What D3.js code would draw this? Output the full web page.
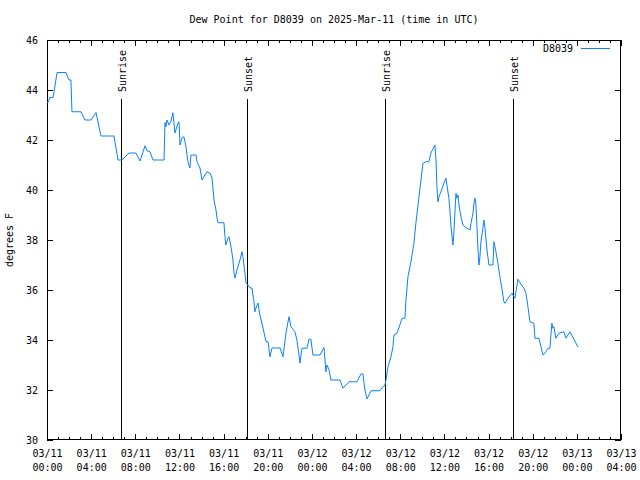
<!DOCTYPE html>
<html>
<head>
<meta charset="utf-8">
<script src="https://cdn.jsdelivr.net/npm/d3@7"></script>
<style>
  html, body { margin: 0; padding: 0; background: #fff; }
  svg { display: block; }
  text { font-family: "DejaVu Sans Mono", "Liberation Mono", monospace; font-size: 10px; fill: #000; }
</style>
</head>
<body>
<svg id="chart" width="640" height="480"></svg>
<script>
// ---- data ----
const title = "Dew Point for D8039 on 2025-Mar-11 (time in UTC)";
const yLabel = "degrees F";
const seriesName = "D8039";
// hours after 2025-03-11 00:00 UTC
const hours = [0,0.09,0.27,0.54,0.63,0.91,1.72,1.99,2.17,2.26,3.08,3.44,3.99,4.44,4.89,6.07,6.43,6.79,7.43,8.06,8.42,8.88,9.06,9.33,9.60,10.60,10.69,10.78,10.87,11.05,11.23,11.41,11.59,11.87,11.96,12.05,12.23,12.41,12.59,12.77,12.95,13.04,13.50,13.59,13.86,14.04,14.31,14.49,14.76,14.95,15.13,15.31,15.40,15.49,16.03,16.12,16.21,16.39,16.49,16.67,16.85,16.94,17.03,17.21,17.48,17.66,17.75,17.93,18.03,18.21,18.39,18.57,18.75,18.84,18.93,19.11,19.29,19.57,19.84,20.02,20.20,20.38,21.11,21.38,21.65,21.92,22.10,22.46,22.64,22.83,22.92,23.10,23.55,23.73,23.91,24.09,24.73,25.09,25.27,25.36,25.54,25.72,26.54,26.81,27.36,28.08,28.44,28.62,28.80,28.99,29.17,29.35,30.16,30.43,30.62,30.71,30.89,31.16,31.34,31.43,31.70,31.97,32.16,32.43,32.52,32.70,32.97,33.24,33.42,33.70,33.88,34.06,34.33,34.60,34.78,35.14,35.24,35.33,35.42,35.51,35.69,35.96,36.14,36.23,36.41,36.50,36.59,36.68,36.78,36.87,36.96,37.05,37.14,37.23,37.32,37.50,37.68,38.04,38.32,38.41,38.59,38.68,38.77,38.86,38.95,39.04,39.13,39.22,39.31,39.49,39.58,39.67,39.76,39.86,40.04,40.40,40.49,40.58,40.67,40.85,41.03,41.21,41.39,41.49,41.76,42.12,42.21,42.39,42.66,42.93,43.21,43.39,43.57,43.75,44.11,44.20,44.57,44.75,44.93,45.20,45.38,45.56,45.74,45.83,45.92,46.10,46.38,46.83,47.01,47.37,48.10];
const dewPoint = [43.5,43.5,43.7,43.7,43.9,44.7,44.7,44.4,44.4,43.13,43.13,42.8,42.8,43.1,42.16,42.16,41.2,41.2,41.48,41.48,41.16,41.77,41.57,41.53,41.2,41.2,42.7,42.53,42.8,42.6,42.75,43.09,42.28,42.68,42.73,41.8,42.08,42.13,41.73,41.13,40.88,41.4,41.4,41.13,40.88,40.4,40.6,40.73,40.68,40.48,39.6,39.2,38.88,38.69,38.69,38.13,37.8,38.08,38.13,37.73,37.2,36.68,36.48,36.8,37.2,37.53,37.33,36.68,36.28,36.2,36.08,36.08,35.53,35.13,35.28,35.48,35.0,34.48,33.93,33.93,33.33,33.68,33.68,33.33,34.28,34.93,34.53,34.33,34.0,33.4,33.08,33.67,33.67,34.03,34.03,33.4,33.4,33.7,32.73,33.0,32.83,32.4,32.4,32.07,32.33,32.33,32.64,32.64,32.0,31.64,31.8,31.97,31.97,32.13,32.2,32.4,32.93,33.33,33.73,34.2,34.27,34.6,34.87,34.87,35.6,36.53,37.13,37.87,38.68,39.73,40.4,41.07,41.13,41.13,41.48,41.8,41.2,40.07,39.53,39.73,39.93,40.27,40.47,40.2,39.67,39.2,38.6,38.2,37.8,38.4,39.13,39.87,39.67,39.8,39.4,38.93,38.6,38.47,38.4,38.67,39.07,39.47,39.67,39.4,38.53,37.67,37.0,37.33,37.93,38.47,38.8,38.53,38.07,37.6,37.0,37.0,37.93,37.73,37.53,37.07,36.53,36.07,35.53,35.47,35.67,35.87,35.8,35.67,36.43,36.24,36.07,35.87,35.33,34.73,34.67,34.07,34.07,33.73,33.4,33.53,33.67,33.67,34.67,34.47,34.53,34.07,34.27,34.33,34.07,34.33,33.72];
const sunEventLabels = ["Sunrise", "Sunset", "Sunrise", "Sunset"];
const sunEventHours = [6.68, 18.15, 30.64, 42.18];
const yTicks = [30, 32, 34, 36, 38, 40, 42, 44, 46];
const xTickHours = [0, 4, 8, 12, 16, 20, 24, 28, 32, 36, 40, 44, 48, 52];
const xTickDates = ["03/11","03/11","03/11","03/11","03/11","03/11","03/12","03/12","03/12","03/12","03/12","03/12","03/13","03/13"];
const xTickTimes = ["00:00","04:00","08:00","12:00","16:00","20:00","00:00","04:00","08:00","12:00","16:00","20:00","00:00","04:00"];
const xMinorHours = d3.range(0, 53, 1);

// ---- layout ----
const L = 47, R = 621, T = 40, B = 440;
const lineColor = "#0a80ff";
const svg = d3.select("#chart");

const x = d3.scaleLinear().domain([0, 52]).range([L, R]);
const y = d3.scaleLinear().domain([30, 46]).range([B, T]);

// minor ticks (bottom & top)
svg.append("g").attr("transform", `translate(0,${B})`)
  .call(d3.axisBottom(x).tickValues(xMinorHours).tickSize(-3).tickFormat(""))
  .call(g => g.select(".domain").remove());
svg.append("g").attr("transform", `translate(0,${T})`)
  .call(d3.axisTop(x).tickValues(xMinorHours).tickSize(-3).tickFormat(""))
  .call(g => g.select(".domain").remove());

// major x ticks bottom with two-line labels
const xAxis = svg.append("g").attr("transform", `translate(0,${B})`)
  .call(d3.axisBottom(x).tickValues(xTickHours).tickSize(-6).tickPadding(0).tickFormat(""))
  .call(g => g.select(".domain").remove());
xAxis.selectAll(".tick text").each(function(d) {
  const i = xTickHours.indexOf(d);
  const t = d3.select(this).attr("y", 0).attr("dy", null);
  t.append("tspan").attr("x", 0).attr("y", 17).text(xTickDates[i]);
  t.append("tspan").attr("x", 0).attr("y", 31).text(xTickTimes[i]);
});
svg.append("g").attr("transform", `translate(0,${T})`)
  .call(d3.axisTop(x).tickValues(xTickHours).tickSize(-6).tickFormat(""))
  .call(g => g.select(".domain").remove());

// y ticks
svg.append("g").attr("transform", `translate(${L},0)`)
  .call(d3.axisLeft(y).tickValues(yTicks).tickSize(-6).tickPadding(9).tickFormat(d3.format("d")))
  .call(g => g.select(".domain").remove());
svg.append("g").attr("transform", `translate(${R},0)`)
  .call(d3.axisRight(y).tickValues(yTicks).tickSize(-6).tickFormat(""))
  .call(g => g.select(".domain").remove());

svg.selectAll(".tick line").attr("stroke", "#000").attr("shape-rendering", "crispEdges");
svg.selectAll(".tick text").attr("fill", "#000")
  .style("font-family", "'DejaVu Sans Mono', monospace").style("font-size", "10px");

// frame
svg.append("rect").attr("x", L + 0.5).attr("y", T + 0.5)
  .attr("width", R - L - 1).attr("height", B - T - 1)
  .attr("fill", "none").attr("stroke", "#000").attr("shape-rendering", "crispEdges");

// sunrise / sunset lines
sunEventHours.forEach((h, i) => {
  const xx = Math.round(x(h)) + 0.5;
  svg.append("line").attr("x1", xx).attr("x2", xx).attr("y1", 99).attr("y2", B)
    .attr("stroke", "#000").attr("stroke-width", 1).attr("shape-rendering", "crispEdges");
  svg.append("text").attr("transform", `translate(${xx + 1},92) rotate(-90)`)
    .attr("dy", "0.35em").attr("text-anchor", "start").text(sunEventLabels[i]);
});

// data line
const data = hours.map((h, i) => [h, dewPoint[i]]);
svg.append("path").datum(data)
  .attr("fill", "none").attr("stroke", lineColor).attr("stroke-width", 1)
  .attr("d", d3.line().x(d => x(d[0])).y(d => y(d[1])));

// title
svg.append("text").attr("x", (L + R) / 2).attr("y", 23).attr("text-anchor", "middle").text(title);

// y label
svg.append("text").attr("transform", `translate(13,${(T + B) / 2}) rotate(-90)`)
  .attr("text-anchor", "middle").text(yLabel);

// legend
svg.append("text").attr("x", 573).attr("y", 52).attr("text-anchor", "end").text(seriesName);
svg.append("line").attr("x1", 581).attr("x2", 610).attr("y1", 48.5).attr("y2", 48.5)
  .attr("stroke", lineColor).attr("stroke-width", 1);
</script>
</body>
</html>
